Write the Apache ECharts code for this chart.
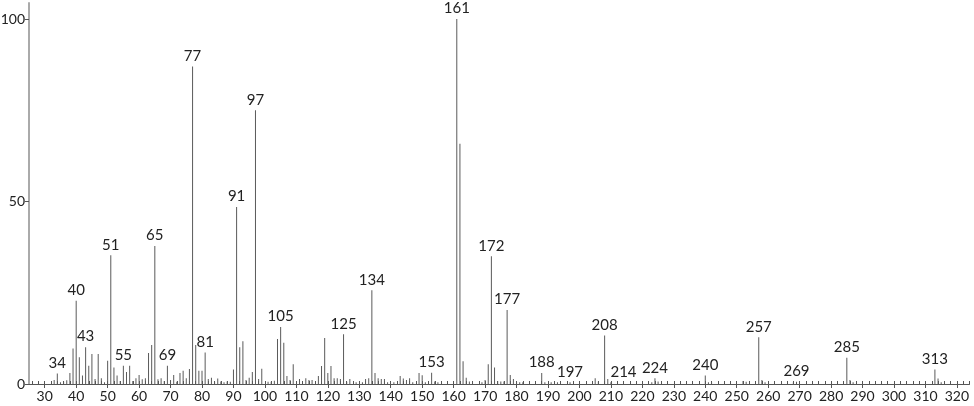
<!DOCTYPE html>
<html>
<head>
<meta charset="utf-8">
<script src="https://cdn.jsdelivr.net/npm/echarts@6/dist/echarts.min.js"></script>
<style>
  html, body { margin: 0; padding: 0; background: #fff; }
  #chart { width: 974px; height: 406px; }
</style>
</head>
<body>
<div id="chart"></div>
<script>
// m/z values and relative intensities (%)
const mzValues = [
  33, 34, 35, 36, 37, 38, 39, 40, 41, 42, 43, 44, 45, 46, 47, 48, 49, 50,
  51, 52, 53, 54, 55, 56, 57, 58, 59, 60, 61, 62, 63, 64, 65, 66, 67, 68,
  69, 70, 71, 72, 73, 74, 75, 76, 77, 78, 79, 80, 81, 82, 83, 84, 85, 86,
  87, 88, 89, 90, 91, 92, 93, 94, 95, 96, 97, 98, 99, 101, 102, 103, 104,
  105, 106, 107, 108, 109, 111, 113, 114, 115, 117, 118, 119, 120, 121,
  122, 123, 124, 125, 126, 127, 129, 131, 132, 133, 134, 135, 136, 137,
  138, 139, 141, 143, 144, 145, 146, 147, 149, 150, 151, 153, 154, 155,
  161, 162, 163, 164, 165, 166, 169, 170, 171, 172, 173, 174, 175, 176,
  177, 178, 179, 180, 181, 182, 188, 189, 191, 193, 197, 205, 206, 208,
  209, 210, 214, 223, 224, 225, 240, 241, 242, 252, 253, 257, 258, 259,
  268, 269, 285, 286, 287, 313, 314, 315
];
const intensities = [
  1.1, 2.9, 0.5, 0.6, 1.0, 3.0, 9.7, 22.8, 7.3, 2.3, 10.1, 5.0, 8.2, 1.4, 8.2, 1.6, 0.5, 6.4,
  35.3, 4.5, 2.3, 0.8, 5.0, 3.3, 5.0, 0.8, 1.6, 2.5, 1.3, 1.6, 8.5, 10.7, 37.8, 1.3, 1.6, 0.8,
  5.0, 1.1, 2.5, 0.6, 3.0, 3.6, 1.6, 4.1, 87.0, 10.7, 3.6, 3.6, 8.6, 1.4, 1.7, 0.6, 1.5, 0.7,
  0.5, 0.7, 0.6, 4.0, 48.5, 10.1, 11.7, 1.1, 1.7, 3.3, 75.0, 1.4, 4.2, 0.6, 0.6, 0.9, 12.3,
  15.6, 11.3, 2.2, 1.1, 5.4, 1.4, 1.6, 1.1, 1.1, 2.2, 4.9, 12.6, 3.0, 4.9,
  1.6, 1.6, 1.4, 13.6, 0.6, 1.4, 0.5, 0.5, 1.4, 1.6, 25.7, 3.0, 1.6, 1.4,
  1.4, 0.5, 0.5, 2.2, 1.5, 1.1, 1.6, 0.5, 3.0, 2.4, 0.5, 3.1, 0.7, 0.5,
  100, 65.8, 6.2, 1.7, 0.7, 0.7, 0.5, 1.1, 5.4, 35.0, 4.5, 0.8, 0.7, 0.7,
  20.3, 2.5, 1.4, 0.5, 0.5, 0.5, 3.0, 0.5, 0.5, 0.5, 0.5, 1.6, 0.7, 13.3,
  1.4, 0.5, 0.5, 0.5, 1.6, 0.7, 2.3, 0.5, 0.5, 0.8, 0.6, 12.8, 1.1, 0.5,
  0.5, 0.6, 7.2, 1.1, 0.5, 4.0, 1.5, 0.5
];
// peaks that carry an m/z label
const labelledPeaks = [34, 40, 43, 51, 55, 65, 69, 77, 81, 91, 97, 105, 125, 134, 153,
  161, 172, 177, 188, 197, 208, 214, 224, 240, 257, 269, 285, 313];
const xTickLabels = [30, 40, 50, 60, 70, 80, 90, 100, 110, 120, 130, 140, 150, 160, 170, 180,
  190, 200, 210, 220, 230, 240, 250, 260, 270, 280, 290, 300, 310, 320];
const yTickLabels = [0, 50, 100];

const minorTicks = [];
for (let v = 26; v <= 324; v += 2) minorTicks.push(v);

const fontName = 'Lato';

const chart = echarts.init(document.getElementById('chart'));

const seriesData = mzValues.map((mz, i) => {
  const item = { value: [mz, intensities[i]] };
  if (labelledPeaks.indexOf(mz) >= 0) {
    item.label = { show: true };
  }
  return item;
});

const option = {
  animation: false,
  grid: {
    left: 29,
    right: 4.5,
    top: 3,
    bottom: 22,
    containLabel: false,
    outerBoundsMode: 'none'
  },
  xAxis: [
    {
      type: 'value',
      min: 25,
      max: 324,
      position: 'bottom',
      axisLine: { show: true, lineStyle: { color: '#555', width: 1 } },
      axisTick: {
        show: true,
        inside: true,
        length: 3,
        customValues: minorTicks,
        lineStyle: { color: '#555' }
      },
      axisLabel: {
        show: true,
        customValues: xTickLabels,
        color: '#222',
        fontFamily: fontName,
        fontSize: 14,
        margin: 5
      },
      splitLine: { show: false }
    },
    {
      type: 'value',
      min: 25,
      max: 324,
      position: 'bottom',
      axisLine: { show: false },
      axisTick: {
        show: true,
        length: 4,
        customValues: xTickLabels,
        lineStyle: { color: '#555' }
      },
      axisLabel: { show: false },
      splitLine: { show: false }
    }
  ],
  yAxis: {
    type: 'value',
    min: 0,
    max: 104.4,
    axisLine: { show: true, lineStyle: { color: '#aaa', width: 2 } },
    axisTick: {
      show: true,
      length: 4,
      customValues: yTickLabels,
      lineStyle: { color: '#555' }
    },
    axisLabel: {
      customValues: yTickLabels,
      color: '#222',
      fontFamily: fontName,
      fontSize: 14,
      margin: 4
    },
    splitLine: { show: false }
  },
  series: [
    {
      type: 'bar',
      xAxisIndex: 0,
      barWidth: 1,
      data: seriesData,
      itemStyle: { color: '#5a5a5a' },
      label: {
        show: false,
        position: 'top',
        distance: 3,
        color: '#222',
        fontFamily: fontName,
        fontSize: 15,
        formatter: (p) => p.value[0]
      }
    }
  ]
};

chart.setOption(option);
</script>
</body>
</html>
